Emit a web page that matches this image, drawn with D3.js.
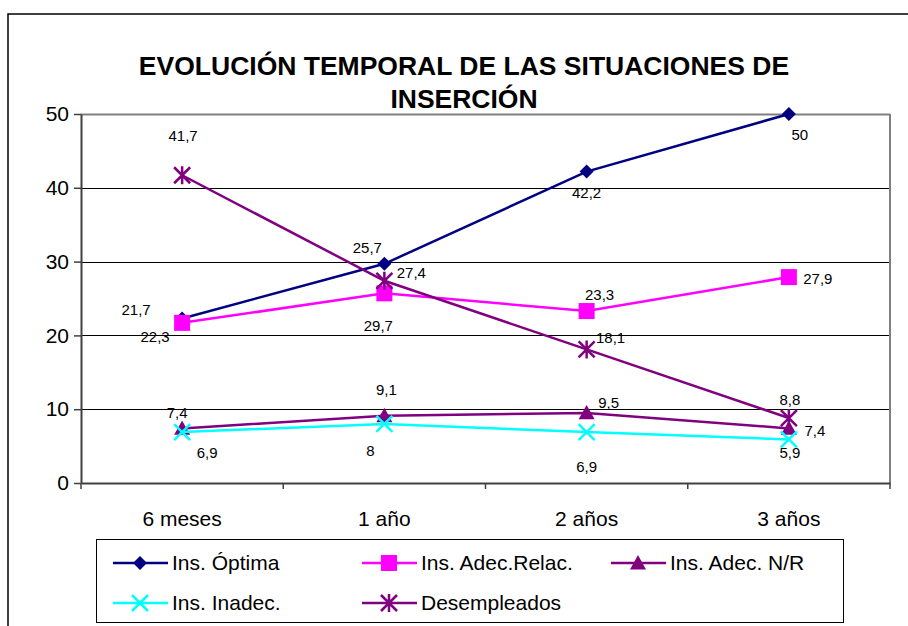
<!DOCTYPE html>
<html>
<head>
<meta charset="utf-8">
<script src="https://cdn.jsdelivr.net/npm/d3@7"></script>
<style>
  body { margin: 0; background: #fff; }
  svg { font-family: "Liberation Sans", Arial, sans-serif; }
</style>
</head>
<body>
<div id="chart"></div>
<script>
// categories and series
let periods = ["6 meses", "1 año", "2 años", "3 años"];
let optima = [22.3, 29.7, 42.2, 50];
let adecRelac = [21.7, 25.7, 23.3, 27.9];
let adecNR = [7.4, 9.1, 9.5, 7.4];
let inadec = [6.9, 8, 6.9, 5.9];
let desempleados = [41.7, 27.4, 18.1, 8.8];
let yTicks = [0, 10, 20, 30, 40, 50];

let series = [
  {name: "Ins. Óptima", values: optima, color: "#000080", marker: "diamond"},
  {name: "Ins. Adec.Relac.", values: adecRelac, color: "#FF00FF", marker: "square"},
  {name: "Ins. Adec. N/R", values: adecNR, color: "#800080", marker: "triangle"},
  {name: "Ins. Inadec.", values: inadec, color: "#00FFFF", marker: "cross"},
  {name: "Desempleados", values: desempleados, color: "#800080", marker: "asterisk"}
];

// where excel dropped each data label, relative to its point
let labelOffsets = [
  [[-27, 18], [-6, 62], [0, 21], [11, 21]],
  [[-46, -13], [-17, -46], [13, -16], [29, 2]],
  [[-5, -16], [2, -26], [22, -10], [26, 2]],
  [[25, 21], [-14, 27], [0, 35], [1, 13]],
  [[1, -40], [27, -8], [24, -12], [1, -18]]
];

let width = 908, height = 626;
let plot = {left: 81, right: 890, top: 114, bottom: 483};

let svg = d3.select("#chart").append("svg")
  .attr("width", width)
  .attr("height", height);

svg.append("rect").attr("width", width).attr("height", height).attr("fill", "#fff");

// outer chart frame (runs off the page right and bottom)
svg.append("rect")
  .attr("x", 8).attr("y", 14)
  .attr("width", 940).attr("height", 660)
  .attr("fill", "none")
  .attr("stroke", "#000")
  .attr("stroke-width", 1.5);

// title
let title = svg.append("text")
  .attr("text-anchor", "middle")
  .attr("font-size", 26.5)
  .attr("font-weight", "bold")
  .attr("fill", "#000");
title.append("tspan").attr("x", 464).attr("y", 75).text("EVOLUCIÓN TEMPORAL DE LAS SITUACIONES DE");
title.append("tspan").attr("x", 464).attr("y", 108).text("INSERCIÓN");

let x = d3.scaleBand().domain(periods).range([plot.left, plot.right]);
let y = d3.scaleLinear().domain([0, 50]).range([plot.bottom, plot.top]);
let cx = (p) => x(p) + x.bandwidth() / 2;

// gridlines
svg.append("g")
  .selectAll("line")
  .data(yTicks.filter(t => t > 0))
  .enter().append("line")
  .attr("x1", plot.left).attr("x2", plot.right)
  .attr("y1", d => Math.round(y(d)) + 0.5)
  .attr("y2", d => Math.round(y(d)) + 0.5)
  .attr("stroke", d => d == 50 ? "#808080" : "#000")
  .attr("stroke-width", d => d == 50 ? 2 : 1);

// right frame edge
svg.append("line")
  .attr("x1", plot.right).attr("x2", plot.right)
  .attr("y1", plot.top).attr("y2", plot.bottom)
  .attr("stroke", "#808080").attr("stroke-width", 2);

// y axis
let yAxis = svg.append("g")
  .attr("transform", `translate(${plot.left},0)`)
  .call(d3.axisLeft(y).tickValues(yTicks).tickSize(7).tickSizeOuter(0).tickPadding(5));
yAxis.select(".domain").attr("stroke", "#404040").attr("stroke-width", 2);
yAxis.selectAll(".tick line").attr("stroke", "#404040").attr("stroke-width", 1.5);
yAxis.selectAll("text").attr("font-size", 21).attr("fill", "#000")
  .attr("font-family", "Liberation Sans, Arial, sans-serif");

// x axis, ticks between categories
let xAxis = svg.append("g")
  .attr("transform", `translate(0,${plot.bottom})`)
  .call(d3.axisBottom(x).tickSize(0).tickPadding(28));
xAxis.select(".domain").attr("stroke", "#404040").attr("stroke-width", 2);
xAxis.selectAll("text").attr("font-size", 21).attr("fill", "#000")
  .attr("font-family", "Liberation Sans, Arial, sans-serif");
let bounds = periods.map(p => x(p)).concat([x(periods[periods.length - 1]) + x.bandwidth()]);
xAxis.selectAll("line.sep")
  .data(bounds)
  .enter().append("line")
  .attr("class", "sep")
  .attr("x1", d => d).attr("x2", d => d)
  .attr("y1", 0).attr("y2", 6)
  .attr("stroke", "#404040").attr("stroke-width", 1.5);

// marker painter
let drawMarker = (g, type, color, px, py, s) => {
  if (type == "diamond") {
    g.append("path").attr("d", `M${px},${py - s}L${px + s},${py}L${px},${py + s}L${px - s},${py}Z`)
      .attr("fill", color);
  } else if (type == "square") {
    g.append("rect").attr("x", px - s).attr("y", py - s).attr("width", 2 * s).attr("height", 2 * s)
      .attr("fill", color);
  } else if (type == "triangle") {
    g.append("path").attr("d", `M${px},${py - s}L${px + s},${py + s * 0.8}L${px - s},${py + s * 0.8}Z`)
      .attr("fill", color);
  } else if (type == "cross") {
    g.append("path").attr("d", `M${px - s},${py - s}L${px + s},${py + s}M${px - s},${py + s}L${px + s},${py - s}`)
      .attr("stroke", color).attr("stroke-width", 2.5).attr("fill", "none");
  } else if (type == "asterisk") {
    g.append("path").attr("d", `M${px - s},${py - s}L${px + s},${py + s}M${px - s},${py + s}L${px + s},${py - s}M${px},${py - s - 1}L${px},${py + s + 1}`)
      .attr("stroke", color).attr("stroke-width", 2.5).attr("fill", "none");
  }
};

let markerSize = {diamond: 7, square: 8, triangle: 8, cross: 8, asterisk: 8};

let line = d3.line()
  .x((d, i) => cx(periods[i]))
  .y(d => y(d));

let linesG = svg.append("g");
series.forEach((s) => {
  let g = linesG.append("g");
  g.append("path")
    .datum(s.values)
    .attr("d", line)
    .attr("fill", "none")
    .attr("stroke", s.color)
    .attr("stroke-width", 2.5);
  s.values.forEach((v, i) => {
    drawMarker(g, s.marker, s.color, cx(periods[i]), y(v), markerSize[s.marker]);
  });
});

// data labels
let labelsG = svg.append("g");
series.forEach((s, si) => {
  s.values.forEach((v, i) => {
    let off = labelOffsets[si][i];
    labelsG.append("text")
      .attr("x", cx(periods[i]) + off[0])
      .attr("y", y(v) + off[1])
      .attr("dy", "0.35em")
      .attr("text-anchor", "middle")
      .attr("font-size", 15)
      .attr("fill", "#000")
      .text(String(v).replace(".", ","));
  });
});

// legend
let legend = svg.append("g");
legend.append("rect")
  .attr("x", 96.5).attr("y", 539.5)
  .attr("width", 747).attr("height", 83)
  .attr("fill", "#fff")
  .attr("stroke", "#000").attr("stroke-width", 1);

let colX = [113, 362, 611];
let rowY = [563, 603];
series.forEach((s, i) => {
  let lx = colX[i % 3], ly = rowY[Math.floor(i / 3)];
  let g = legend.append("g");
  g.append("line")
    .attr("x1", lx).attr("x2", lx + 55)
    .attr("y1", ly).attr("y2", ly)
    .attr("stroke", s.color).attr("stroke-width", 2.5);
  drawMarker(g, s.marker, s.color, lx + 27, ly, markerSize[s.marker]);
  g.append("text")
    .attr("x", lx + 59).attr("y", ly)
    .attr("dy", "0.35em")
    .attr("font-size", 21)
    .attr("fill", "#000")
    .text(s.name);
});
</script>
</body>
</html>
